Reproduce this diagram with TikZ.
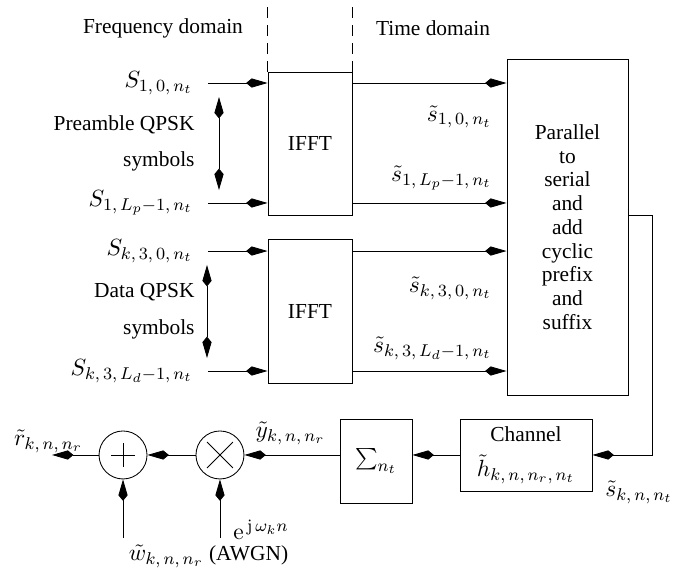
\documentclass[tikz,border=0pt]{standalone}
\usepackage[no-math]{fontspec}
\setmainfont{Liberation Serif}
\usetikzlibrary{arrows.meta}

\newcommand{\symb}[1]{{\fontsize{11.3}{13.6}\selectfont$#1$}}

\begin{document}
\begin{tikzpicture}[>={Kite[length=10pt,width=4.3pt,inset=2.6pt]},
      blk/.style={draw, rectangle, inner sep=0pt, align=center},
      junc/.style={draw, circle, minimum size=0.788cm, inner sep=0pt},
      inlbl/.style={anchor=east, inner xsep=7pt, inner ysep=0pt},
      outlbl/.style={anchor=east, inner sep=0pt},
      domline/.style={dash pattern=on 5pt off 3.4pt}]
      \useasboundingbox (0,0) rectangle (11.478,9.376);

      \coordinate (top) at (0,9.376);
      \coordinate (pa) at (3.596,7.783);
      \coordinate (pb) at (3.596,6.256);
      \coordinate (da) at (3.399,5.025);
      \coordinate (db) at (3.399,3.497);
      \coordinate (turn) at (10.706,1.905);
      \coordinate (rout) at (0.854,1.905);
      \coordinate (wn) at (2.020,0.542);
      \coordinate (ej) at (3.612,0.542);

      % blocks
      \node[blk, minimum width=1.379cm, minimum height=2.348cm] (ifftp) at (5.090,7.020) {IFFT};
      \node[blk, minimum width=1.379cm, minimum height=2.364cm] (ifftd) at (5.090,4.269) {IFFT};
      \node[blk, minimum width=1.987cm, minimum height=5.517cm,
            font=\fontsize{10}{11.1}\selectfont] (ps) at (9.318,5.648)
            {Parallel\\to\\serial\\and\\add\\cyclic\\prefix\\and\\suffix};
      \node[blk, minimum width=2.167cm, minimum height=1.182cm] (chan) at (8.637,1.905)
            {Channel\\[4.4pt]\symb{\tilde{h}_{k,\,n,\,n_r,\,n_t}}};
      \node[blk, minimum width=1.182cm, minimum height=1.379cm] (sum) at (6.174,1.806) {\symb{\sum_{n_t}}};
      \node[junc] (add) at (2.020,1.905) {};
      \node[junc] (mul) at (3.612,1.905) {};
      \draw (add.center) +(-0.192,0) -- +(0.192,0) (add.center) +(0,-0.192) -- +(0,0.192);
      \draw (mul.center) +(-0.213,-0.213) -- +(0.213,0.213) (mul.center) +(-0.213,0.213) -- +(0.213,-0.213);

      % labels
      \node (freq) at (2.676,8.916) {Frequency domain};
      \node (time) at (7.110,8.916) {Time domain};
      \node[inlbl] (s10) at (3.415,8.013) {\symb{S_{1,\,0,\,n_t}}};
      \node[inlbl] (s1l) at (3.415,6.043) {\symb{S_{1,\,L_p-1,\,n_t}}};
      \node[inlbl] (sk0) at (3.415,5.254) {\symb{S_{k,\,3,\,0,\,n_t}}};
      \node[inlbl] (skl) at (3.415,3.284) {\symb{S_{k,\,3,\,L_d-1,\,n_t}}};
      \node[outlbl, align=right] (pre) at (3.202,7.028) {Preamble QPSK\\[4.8pt]symbols};
      \node[outlbl, align=right] (dat) at (3.202,4.261) {Data QPSK\\[5.3pt]symbols};
      \node[outlbl] (t10) at (8.079,7.455) {\symb{\tilde{s}_{1,\,0,\,n_t}}};
      \node[outlbl] (t1l) at (8.079,6.453) {\symb{\tilde{s}_{1,\,L_p-1,\,n_t}}};
      \node[outlbl] (tk0) at (8.079,4.647) {\symb{\tilde{s}_{k,\,3,\,0,\,n_t}}};
      \node[outlbl] (tkl) at (8.079,3.662) {\symb{\tilde{s}_{k,\,3,\,L_d-1,\,n_t}}};
      \node (sser) at (10.493,1.297) {\symb{\tilde{s}_{k,\,n,\,n_t}}};
      \node (yrx) at (4.770,2.266) {\symb{\tilde{y}_{k,\,n,\,n_r}}};
      \node (rrx) at (0.796,2.125) {\symb{\tilde{r}_{k,\,n,\,n_r}}};
      \node (cfo) at (4.286,0.680) {\symb{\mathrm{e}^{\,\mathrm{j}\,\omega_k n}}};
      \node (awgn) at (3.424,0.245) {\symb{\tilde{w}_{k,\,n,\,n_r}} (AWGN)};

      % domain split
      \draw[domline] (ifftp.north west) -- (ifftp.north west |- top);
      \draw[domline] (ifftp.north east) -- (ifftp.north east |- top);

      % connectors
      \foreach \s/\f in {s10/ifftp, s1l/ifftp, sk0/ifftd, skl/ifftd} {
            \draw[->] (\s.east) -- (\s.east -| \f.west);
            \draw[->] (\s.east -| \f.east) -- (\s.east -| ps.west);
      }
      \draw[<->] (pa) -- (pb);
      \draw[<->] (da) -- (db);
      \draw[->] (ps.east |- ifftp.south) -| (turn) -- (chan.east);
      \draw[->] (chan.west) -- (chan.west -| sum.east);
      \draw[->] (mul.east -| sum.west) -- (mul.east);
      \draw[->] (mul.west) -- (add.east);
      \draw[->] (add.west) -- (rout);
      \draw[->] (wn) -- (add.south);
      \draw[->] (ej) -- (mul.south);
\end{tikzpicture}
\end{document}
